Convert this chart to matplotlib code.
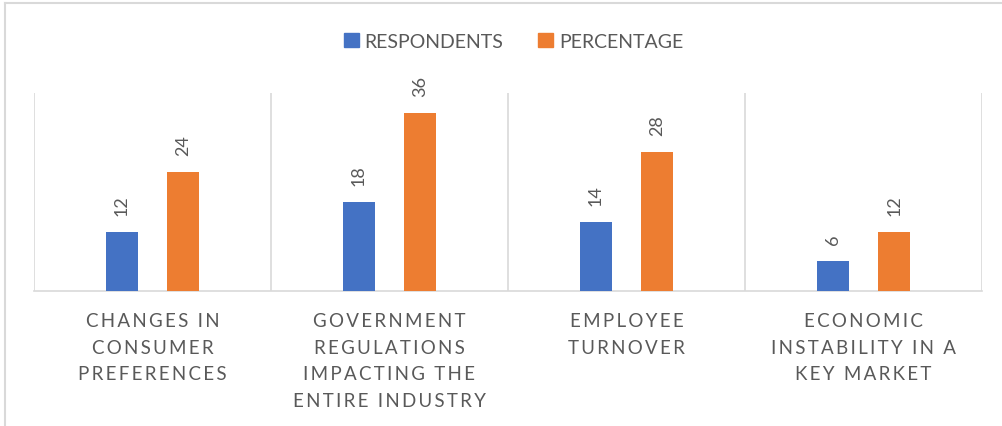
import matplotlib.pyplot as plt
import numpy as np
from matplotlib.lines import Line2D
from matplotlib.patches import Patch

# data
categories = [
    ["CHANGES IN", "CONSUMER", "PREFERENCES"],
    ["GOVERNMENT", "REGULATIONS", "IMPACTING THE", "ENTIRE INDUSTRY"],
    ["EMPLOYEE", "TURNOVER"],
    ["ECONOMIC", "INSTABILITY IN A", "KEY MARKET"],
]
respondents = [12, 18, 14, 6]
percentage = [24, 36, 28, 12]
series_names = ["RESPONDENTS", "PERCENTAGE"]

BLUE = "#4472C4"
ORANGE = "#ED7D31"
TEXT = "#595959"
GRID = "#D9D9D9"

plt.rcParams["font.family"] = ["Lato", "DejaVu Sans"]


def spaced(line):
    # Excel-style character spacing on the category labels (hair spaces)
    return "\u200a\u200a".join(list(line))


fig = plt.figure(figsize=(10.03, 4.27), dpi=100)
ax = fig.add_axes([34 / 1003, 135 / 427, 948 / 1003, 198 / 427])

x = np.arange(len(categories))
bar_w = 0.135
off = 0.129
b1 = ax.bar(x - off, respondents, bar_w, color=BLUE, zorder=3)
b2 = ax.bar(x + off, percentage, bar_w, color=ORANGE, zorder=3)

for bars, vals in [(b1, respondents), (b2, percentage)]:
    for rect, v in zip(bars, vals):
        ax.annotate(str(v), (rect.get_x() + rect.get_width() / 2, v),
                    xytext=(0, 17), textcoords="offset pixels",
                    rotation=90, ha="center", va="bottom",
                    fontsize=13, color=TEXT)

# category separators
ax.vlines(np.arange(len(categories) + 1) - 0.5, 0, 40, color=GRID, lw=1.2, zorder=1)

ax.set_xlim(-0.5, len(categories) - 0.5)
ax.set_ylim(0, 40)
ax.set_yticks([])
ax.set_xticks(x)
ax.set_xticklabels(["\n".join(spaced(l) for l in c) for c in categories],
                   fontsize=13.5, color=TEXT, linespacing=1.7, va="top")
ax.tick_params(axis="x", length=0, pad=15)
for s in ["top", "left", "right"]:
    ax.spines[s].set_visible(False)
ax.spines["bottom"].set_color(GRID)
ax.spines["bottom"].set_linewidth(1.2)

handles = [Patch(color=BLUE), Patch(color=ORANGE)]
fig.legend(handles, series_names, loc="center", bbox_to_anchor=(0.512, 1 - 42 / 427),
           ncol=2, frameon=False, fontsize=14, labelcolor=TEXT,
           handlelength=0.75, handleheight=0.75, handletextpad=0.3, columnspacing=1.8)

# chart area border (only top and left are inside the crop)
fig.add_artist(Line2D([5 / 1003, 5 / 1003], [0, 1 - 4 / 427], color=GRID, lw=1.5,
                      transform=fig.transFigure))
fig.add_artist(Line2D([5 / 1003, 1], [1 - 4 / 427, 1 - 4 / 427], color=GRID, lw=1.5,
                      transform=fig.transFigure))

fig.savefig("out.png", dpi=100)
